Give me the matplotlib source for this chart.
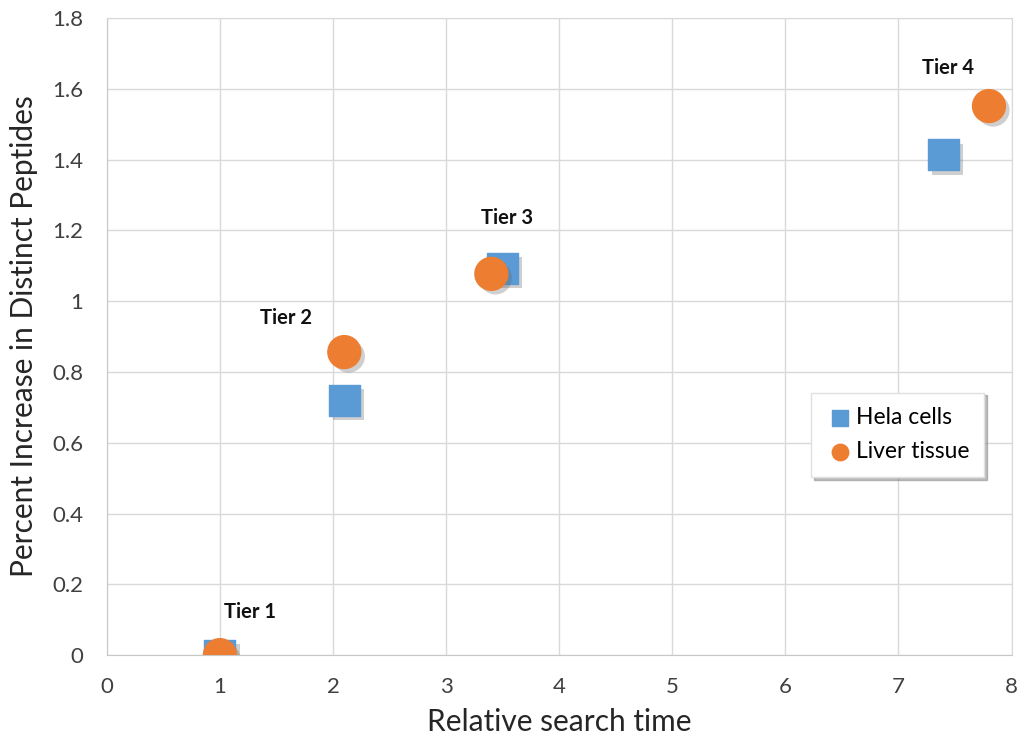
import matplotlib.pyplot as plt
import matplotlib.patheffects as pe

# data
hela_x = [1.0, 2.1, 3.5, 7.4]
hela_y = [0.0, 0.72, 1.093, 1.413]
liver_x = [1.0, 2.1, 3.4, 7.8]
liver_y = [0.0, 0.856, 1.077, 1.551]
tiers = ['Tier 1', 'Tier 2', 'Tier 3', 'Tier 4']
x_ticks = [0, 1, 2, 3, 4, 5, 6, 7, 8]
y_ticks = [0, 0.2, 0.4, 0.6, 0.8, 1, 1.2, 1.4, 1.6, 1.8]

plt.rcParams['font.family'] = ['Lato', 'DejaVu Sans']

fig = plt.figure(figsize=(10.27, 7.47), dpi=100)
ax = fig.add_axes([0.104, 0.123, 0.881, 0.853])

shadow = [pe.SimplePatchShadow(offset=(3, -3), shadow_rgbFace='#606060', alpha=0.3), pe.Normal()]
s1 = ax.scatter(hela_x, hela_y, marker='s', s=500, color='#5B9BD5', label='Hela cells', zorder=3)
s2 = ax.scatter(liver_x, liver_y, marker='o', s=560, color='#ED7D31', label='Liver tissue', zorder=4)
s1.set_path_effects(shadow)
s2.set_path_effects(shadow)

# tier labels placed relative to the liver points
offsets = [(30, 43), (-58, 34), (16, 56), (-41, 38)]
for name, x, y, off in zip(tiers, liver_x, liver_y, offsets):
    ax.annotate(name, (x, y), xytext=off, textcoords='offset pixels',
                ha='center', va='center', fontsize=14.5, fontweight='bold', color='#111111')

ax.set_xlim(0, 8)
ax.set_ylim(0, 1.8)
ax.set_xticks(x_ticks)
ax.set_yticks(y_ticks)
ax.set_yticklabels([('%g' % v) for v in y_ticks])
ax.tick_params(length=0, labelsize=16, colors='#404040')
ax.tick_params(axis='y', pad=17)
ax.tick_params(axis='x', pad=16)
ax.grid(True, color='#D9D9D9', linewidth=1)
ax.set_axisbelow(True)
for sp in ax.spines.values():
    sp.set_color('#D9D9D9')
ax.spines['left'].set_color('#C8C8C8')
ax.spines['bottom'].set_color('#C8C8C8')

ax.set_xlabel('Relative search time', fontsize=21.5, color='#262626', labelpad=8)
ax.set_ylabel('Percent Increase in Distinct Peptides', fontsize=21.5, color='#262626', labelpad=10)

leg = ax.legend(loc='upper left', bbox_to_anchor=(0.766, 0.43), fontsize=16.5, frameon=True,
                shadow={'color': '#808080', 'alpha': 0.5}, fancybox=False, markerscale=0.5,
                handletextpad=0.1, borderpad=0.65, labelspacing=0.55, handlelength=1.2)
leg.get_frame().set_edgecolor('#E0E0E0')
for h in leg.legend_handles:
    h.set_path_effects([])

fig.savefig('out.png', dpi=100)
